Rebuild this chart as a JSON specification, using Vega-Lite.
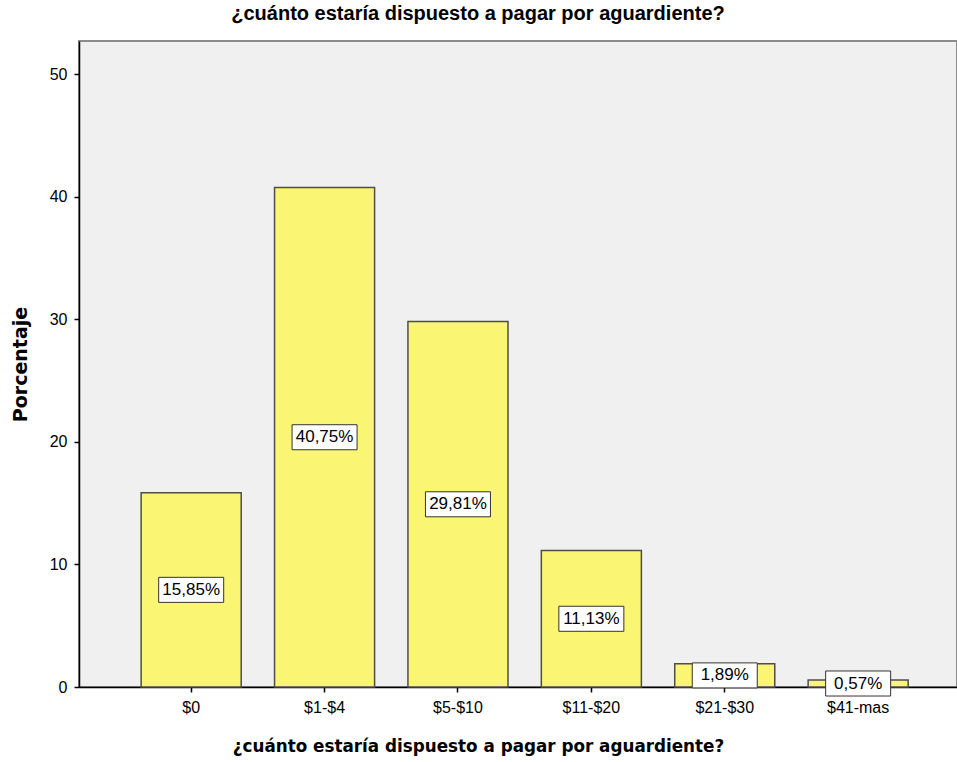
{
  "$schema": "https://vega.github.io/schema/vega-lite/v6.json",
  "autosize": {"type": "none"},
  "padding": {"left": 79, "top": 41, "right": 0, "bottom": 75},
  "width": 878,
  "height": 646,
  "background": "white",
  "config": {
    "font": "Liberation Sans",
    "view": {"fill": "#F0F0F0", "stroke": "#8C8C8C", "strokeWidth": 2}
  },
  "title": {
    "text": "¿cuánto estaría dispuesto a pagar por aguardiente?",
    "font": "Liberation Sans",
    "fontSize": 20,
    "fontWeight": "bold",
    "color": "#000000",
    "anchor": "middle",
    "frame": "group",
    "dx": -40,
    "offset": 17
  },
  "data": {
    "values": [
      {"cat": "$0", "pct": 15.85, "label": "15,85%"},
      {"cat": "$1-$4", "pct": 40.75, "label": "40,75%"},
      {"cat": "$5-$10", "pct": 29.81, "label": "29,81%"},
      {"cat": "$11-$20", "pct": 11.13, "label": "11,13%"},
      {"cat": "$21-$30", "pct": 1.89, "label": "1,89%"},
      {"cat": "$41-mas", "pct": 0.57, "label": "0,57%"}
    ]
  },
  "transform": [{"calculate": "datum.pct / 2", "as": "mid"}],
  "encoding": {
    "x": {
      "field": "cat",
      "type": "nominal",
      "sort": null,
      "scale": {"paddingInner": 0.25, "paddingOuter": 0.416, "align": 0.56},
      "axis": {
        "title": "¿cuánto estaría dispuesto a pagar por aguardiente?",
        "titleFont": "DejaVu Sans",
        "titleFontSize": 16.8,
        "titleFontWeight": "bold",
        "titleColor": "#000000",
        "titleX": 399,
        "titleY": 59,
        "titleBaseline": "middle",
        "titleAlign": "center",
        "labelFont": "Liberation Sans",
        "labelFontSize": 16,
        "labelColor": "#000000",
        "labelAngle": 0,
        "labelPadding": 7,
        "tickSize": 5,
        "tickColor": "#000000",
        "tickWidth": 1.5,
        "domainColor": "#000000",
        "domainWidth": 1.5,
        "grid": false
      }
    }
  },
  "layer": [
    {
      "mark": {"type": "bar", "fill": "#FAF573", "stroke": "#4D4D4D", "strokeWidth": 1.5},
      "encoding": {
        "y": {
          "field": "pct",
          "type": "quantitative",
          "scale": {"domain": [0, 52.7], "nice": false},
          "axis": {
            "title": "Porcentaje",
            "titleFont": "DejaVu Sans",
            "titleFontSize": 19,
            "titleFontWeight": "bold",
            "titleColor": "#000000",
            "titleAngle": -90,
            "titleX": -59,
            "titleY": 323,
            "titleBaseline": "middle",
            "titleAlign": "center",
            "values": [0, 10, 20, 30, 40, 50],
            "labelFont": "Liberation Sans",
            "labelFontSize": 16,
            "labelColor": "#000000",
            "labelPadding": 7,
            "tickSize": 5,
            "tickColor": "#000000",
            "tickWidth": 1.5,
            "domainColor": "#000000",
            "domainWidth": 1.5,
            "grid": false
          }
        }
      }
    },
    {
      "mark": {
        "type": "point",
        "shape": "M-1,-0.385L1,-0.385L1,0.385L-1,0.385Z",
        "filled": true,
        "fill": "#FFFFFF",
        "stroke": "#333333",
        "strokeWidth": 1,
        "opacity": 1,
        "size": 4225
      },
      "encoding": {
        "y": {"field": "mid", "type": "quantitative", "scale": {"domain": [0, 52.7], "nice": false}}
      }
    },
    {
      "mark": {"type": "text", "font": "Liberation Sans", "fontSize": 17, "color": "#000000", "baseline": "middle", "align": "center"},
      "encoding": {
        "y": {"field": "mid", "type": "quantitative", "scale": {"domain": [0, 52.7], "nice": false}},
        "text": {"field": "label"}
      }
    }
  ]
}
